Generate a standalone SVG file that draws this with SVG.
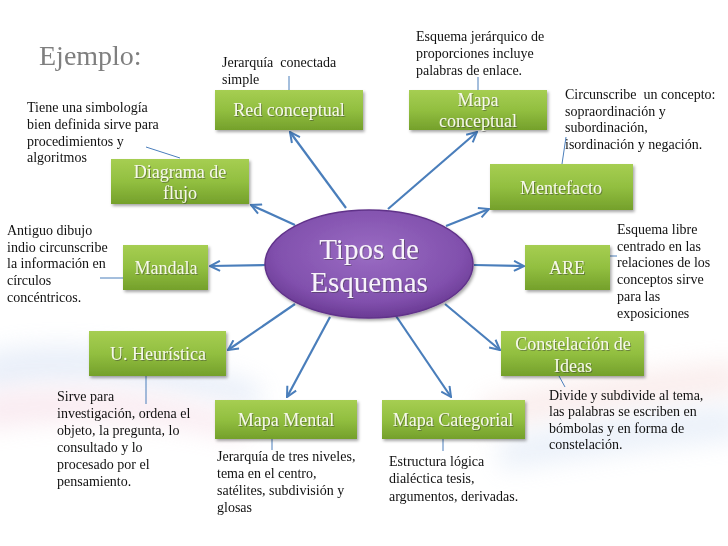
<svg xmlns="http://www.w3.org/2000/svg" width="728" height="546" viewBox="0 0 728 546">
<defs>
<linearGradient id="gBox" x1="0" y1="0" x2="0" y2="1">
<stop offset="0" stop-color="#a6ce52"/>
<stop offset="0.5" stop-color="#92bf40"/>
<stop offset="1" stop-color="#74a02b"/>
</linearGradient>
<radialGradient id="gEll" cx="0.5" cy="0.4" r="0.6">
<stop offset="0" stop-color="#9a6cc3"/>
<stop offset="0.75" stop-color="#8150ad"/>
<stop offset="1" stop-color="#6a3a94"/>
</radialGradient>
<filter id="sh" x="-10%" y="-10%" width="130%" height="140%">
<feDropShadow dx="1.5" dy="2" stdDeviation="1.5" flood-color="#000" flood-opacity="0.35"/>
</filter>
<filter id="tsh" x="-10%" y="-20%" width="130%" height="150%">
<feDropShadow dx="1" dy="1" stdDeviation="0.6" flood-color="#333" flood-opacity="0.45"/>
</filter>
<filter id="blur" x="-20%" y="-50%" width="140%" height="200%">
<feGaussianBlur stdDeviation="12"/>
</filter>
<marker id="arr" viewBox="0 0 12 12" refX="11" refY="6" markerWidth="12" markerHeight="12" markerUnits="userSpaceOnUse" orient="auto">
<path d="M1,1 L11,6 L1,11" fill="none" stroke="#4a7ebb" stroke-width="2" stroke-linejoin="miter"/>
</marker>
<style>
.box{fill:url(#gBox);filter:url(#sh);}
.bt{font-family:"Liberation Serif","Times New Roman",serif;font-size:18px;fill:#f6f8ea;text-anchor:middle;filter:url(#tsh);}
.note{font-family:"Liberation Serif","Times New Roman",serif;font-size:14px;fill:#111;white-space:pre;}
.arrow{stroke:#4a7ebb;stroke-width:2.2;fill:none;marker-end:url(#arr);}
.tick{stroke:#4a7ebb;stroke-width:1;fill:none;}
</style>
</defs>
<rect x="0" y="0" width="728" height="546" fill="#ffffff"/>
<g id="background" opacity="0.45">
<path d="M-20,355 C80,330 180,360 260,385 L260,410 C170,390 80,370 -20,395 Z" fill="#cfdcf2" filter="url(#blur)"/>
<path d="M-20,395 C80,380 170,395 250,420 L240,440 C160,420 80,415 -20,430 Z" fill="#f3d3e0" filter="url(#blur)"/>
<path d="M480,400 C560,380 650,370 740,360 L740,395 C650,405 570,420 480,430 Z" fill="#f4d9d8" filter="url(#blur)"/>
<path d="M500,440 C580,420 660,410 740,405 L740,440 C660,445 580,460 500,470 Z" fill="#d3e0f3" filter="url(#blur)"/>
</g>
<g id="connectors">
<line class="arrow" x1="346" y1="208" x2="290" y2="132"/>
<line class="arrow" x1="388" y1="209" x2="477" y2="132"/>
<line class="arrow" x1="295" y1="225" x2="251" y2="205"/>
<line class="arrow" x1="446" y1="226" x2="489" y2="209"/>
<line class="arrow" x1="266" y1="265" x2="210" y2="266"/>
<line class="arrow" x1="474" y1="265" x2="524" y2="266"/>
<line class="arrow" x1="295" y1="304" x2="228" y2="350"/>
<line class="arrow" x1="445" y1="304" x2="500" y2="350"/>
<line class="arrow" x1="330" y1="317" x2="287" y2="397"/>
<line class="arrow" x1="394" y1="313" x2="451" y2="397"/>
<line class="tick" x1="289" y1="76" x2="289" y2="90"/>
<line class="tick" x1="478" y1="77" x2="478" y2="90"/>
<line class="tick" x1="566" y1="137" x2="562" y2="164"/>
<line class="tick" x1="146" y1="147" x2="180" y2="158"/>
<line class="tick" x1="100" y1="278" x2="123" y2="278"/>
<line class="tick" x1="610" y1="256" x2="617" y2="256"/>
<line class="tick" x1="146" y1="376" x2="146" y2="404"/>
<line class="tick" x1="272" y1="439" x2="272" y2="450"/>
<line class="tick" x1="443" y1="439" x2="443" y2="451"/>
<line class="tick" x1="559" y1="376" x2="565" y2="387"/>
</g>
<g id="title">
<text x="39" y="65" font-family="Liberation Serif, Times New Roman, serif" font-size="28" fill="#7f7f7f">Ejemplo:</text>
</g>
<g id="center">
<ellipse cx="369" cy="264" rx="104" ry="54" fill="url(#gEll)" stroke="#61338a" stroke-width="1.5" filter="url(#sh)"/>
<text x="369" y="259" font-family="Liberation Serif, Times New Roman, serif" font-size="29" fill="#f8f4fb" text-anchor="middle" filter="url(#tsh)">Tipos de</text>
<text x="369" y="292" font-family="Liberation Serif, Times New Roman, serif" font-size="29" fill="#f8f4fb" text-anchor="middle" filter="url(#tsh)">Esquemas</text>
</g>
<g id="red-conceptual">
<rect class="box" x="215" y="90" width="148" height="40"/>
<text class="bt" x="289" y="116">Red conceptual</text>
</g>
<g id="mapa-conceptual">
<rect class="box" x="409" y="90" width="138" height="40"/>
<text class="bt" x="478" y="106">Mapa</text>
<text class="bt" x="478" y="127">conceptual</text>
</g>
<g id="diagrama-flujo">
<rect class="box" x="111" y="159" width="138" height="45"/>
<text class="bt" x="180" y="178">Diagrama de</text>
<text class="bt" x="180" y="199">flujo</text>
</g>
<g id="mentefacto">
<rect class="box" x="490" y="164" width="143" height="46"/>
<text class="bt" x="561" y="194">Mentefacto</text>
</g>
<g id="mandala">
<rect class="box" x="123" y="245" width="85" height="45"/>
<text class="bt" x="166" y="274">Mandala</text>
</g>
<g id="are">
<rect class="box" x="525" y="245" width="85" height="45"/>
<text class="bt" x="567" y="274">ARE</text>
</g>
<g id="u-heuristica">
<rect class="box" x="89" y="331" width="137" height="45"/>
<text class="bt" x="158" y="360">U. Heurística</text>
</g>
<g id="constelacion">
<rect class="box" x="501" y="331" width="143" height="45"/>
<text class="bt" x="573" y="350">Constelación de</text>
<text class="bt" x="573" y="372">Ideas</text>
</g>
<g id="mapa-mental">
<rect class="box" x="215" y="400" width="142" height="39"/>
<text class="bt" x="286" y="426">Mapa Mental</text>
</g>
<g id="mapa-categorial">
<rect class="box" x="382" y="400" width="143" height="39"/>
<text class="bt" x="453" y="426">Mapa Categorial</text>
</g>
<g id="notes">
<text class="note" x="222" y="67" xml:space="preserve">Jerarquía  conectada</text>
<text class="note" x="222" y="84">simple</text>
<text class="note" x="416" y="41">Esquema jerárquico de</text>
<text class="note" x="416" y="58">proporciones incluye</text>
<text class="note" x="416" y="75">palabras de enlace.</text>
<text class="note" x="565" y="99" xml:space="preserve">Circunscribe  un concepto:</text>
<text class="note" x="565" y="116">sopraordinación y</text>
<text class="note" x="565" y="132">subordinación,</text>
<text class="note" x="565" y="149">isordinación y negación.</text>
<text class="note" x="27" y="112">Tiene una simbología</text>
<text class="note" x="27" y="129">bien definida sirve para</text>
<text class="note" x="27" y="146">procedimientos y</text>
<text class="note" x="27" y="162">algoritmos</text>
<text class="note" x="7" y="235">Antiguo dibujo</text>
<text class="note" x="7" y="252">indio circunscribe</text>
<text class="note" x="7" y="268">la información en</text>
<text class="note" x="7" y="285">círculos</text>
<text class="note" x="7" y="302">concéntricos.</text>
<text class="note" x="617" y="234">Esquema libre</text>
<text class="note" x="617" y="251">centrado en las</text>
<text class="note" x="617" y="267">relaciones de los</text>
<text class="note" x="617" y="284">conceptos sirve</text>
<text class="note" x="617" y="301">para las</text>
<text class="note" x="617" y="318">exposiciones</text>
<text class="note" x="57" y="401">Sirve para</text>
<text class="note" x="57" y="418">investigación, ordena el</text>
<text class="note" x="57" y="435">objeto, la pregunta, lo</text>
<text class="note" x="57" y="452">consultado y lo</text>
<text class="note" x="57" y="469">procesado por el</text>
<text class="note" x="57" y="486">pensamiento.</text>
<text class="note" x="217" y="461">Jerarquía de tres niveles,</text>
<text class="note" x="217" y="478">tema en el centro,</text>
<text class="note" x="217" y="495">satélites, subdivisión y</text>
<text class="note" x="217" y="512">glosas</text>
<text class="note" x="389" y="466">Estructura lógica</text>
<text class="note" x="389" y="483">dialéctica tesis,</text>
<text class="note" x="389" y="501">argumentos, derivadas.</text>
<text class="note" x="549" y="400">Divide y subdivide al tema,</text>
<text class="note" x="549" y="416">las palabras se escriben en</text>
<text class="note" x="549" y="433">bómbolas y en forma de</text>
<text class="note" x="549" y="449">constelación.</text>
</g>
</svg>
